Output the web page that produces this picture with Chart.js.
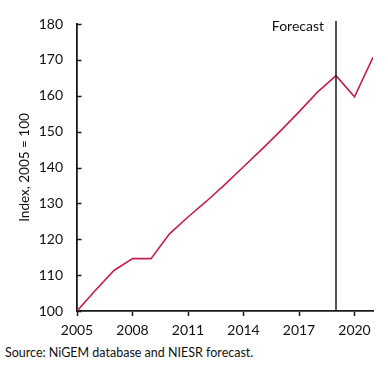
<!DOCTYPE html>
<html>
<head>
<meta charset="utf-8">
<script src="https://cdn.jsdelivr.net/npm/chart.js@4.4.1/dist/chart.umd.min.js"></script>
<style>
  html, body { margin: 0; padding: 0; background: #ffffff; }
  #wrap { position: relative; width: 388px; height: 371px; }
  #c { position: absolute; left: 0; top: 0; }
  #source { position: absolute; left: 5px; top: 345px; font-family: Lato, sans-serif; font-size: 12.5px; color: #111; white-space: nowrap; }
</style>
</head>
<body>
<div id="wrap">
  <canvas id="c" width="388" height="340"></canvas>
  <div id="source">Source: NiGEM database and NIESR forecast.</div>
</div>
<script>
const years = [2005, 2006, 2007, 2008, 2009, 2010, 2011, 2012, 2013, 2014, 2015, 2016, 2017, 2018, 2019, 2020, 2021];
const indexValues = [100, 105.8, 111.3, 114.6, 114.6, 121.5, 126.2, 130.6, 135.3, 140.2, 145.1, 150.2, 155.5, 161.0, 165.6, 159.7, 170.7];
const xTickYears = [2005, 2008, 2011, 2014, 2017, 2020];
const yTickValues = [100, 110, 120, 130, 140, 150, 160, 170, 180];
const forecastYear = 2019;
const forecastLabel = "Forecast";
const yAxisTitle = "Index, 2005 = 100";

const lineColor = "#c41e4a";
const axisColor = "#1a1a1a";
const fontFamily = "Lato, 'Open Sans', sans-serif";

const extrasPlugin = {
  id: 'extras',
  afterDraw(chart) {
    const ctx = chart.ctx;
    const xs = chart.scales.x, ys = chart.scales.y;
    const area = chart.chartArea;
    ctx.save();
    // inward y ticks
    ctx.strokeStyle = axisColor;
    ctx.lineWidth = 1.5;
    ys.ticks.forEach(t => {
      const py = Math.round(ys.getPixelForValue(t.value)) + 0.5;
      ctx.beginPath();
      ctx.moveTo(area.left, py);
      ctx.lineTo(area.left + 4.5, py);
      ctx.stroke();
    });
    // forecast line
    const fx = xs.getPixelForValue(forecastYear);
    ctx.lineWidth = 1.5;
    ctx.beginPath();
    ctx.moveTo(fx, area.bottom);
    ctx.lineTo(fx, area.top - 3);
    ctx.stroke();
    // label
    ctx.fillStyle = "#111";
    ctx.font = "14px " + fontFamily;
    ctx.textAlign = "right";
    ctx.textBaseline = "alphabetic";
    ctx.fillText(forecastLabel, fx - 12, area.top + 7);
    ctx.restore();
  }
};

new Chart(document.getElementById('c'), {
  type: 'line',
  data: {
    datasets: [{
      data: years.map((y, i) => ({ x: y, y: indexValues[i] })),
      borderColor: lineColor,
      borderWidth: 1.6,
      pointRadius: 0,
      tension: 0,
      fill: false
    }]
  },
  options: {
    responsive: false,
    animation: false,
    layout: { padding: { left: 17, right: 15, top: 24, bottom: 0 } },
    plugins: { legend: { display: false }, tooltip: { enabled: false } },
    scales: {
      x: {
        type: 'linear',
        min: 2005,
        max: 2021,
        afterBuildTicks(s) { s.ticks = xTickYears.map(v => ({ value: v })); },
        afterFit(s) { s.height = 29; },
        grid: { drawOnChartArea: false, drawTicks: true, tickLength: 5, tickWidth: 1.5, tickColor: axisColor },
        border: { color: axisColor, width: 1.8 },
        ticks: {
          autoSkip: false,
          maxRotation: 0,
          padding: 6,
          color: "#111",
          font: { family: fontFamily, size: 14 },
          callback: v => String(v)
        }
      },
      y: {
        min: 100,
        max: 180,
        afterBuildTicks(s) { s.ticks = yTickValues.map(v => ({ value: v })); },
        afterFit(s) { s.width = 60; },
        grid: { drawOnChartArea: false, drawTicks: false },
        border: { color: axisColor, width: 1.8 },
        title: {
          display: true,
          text: yAxisTitle,
          color: "#111",
          font: { family: fontFamily, size: 13.5 },
          padding: 0
        },
        ticks: {
          padding: 14,
          color: "#111",
          font: { family: fontFamily, size: 14 }
        }
      }
    }
  },
  plugins: [extrasPlugin]
});
</script>
</body>
</html>
